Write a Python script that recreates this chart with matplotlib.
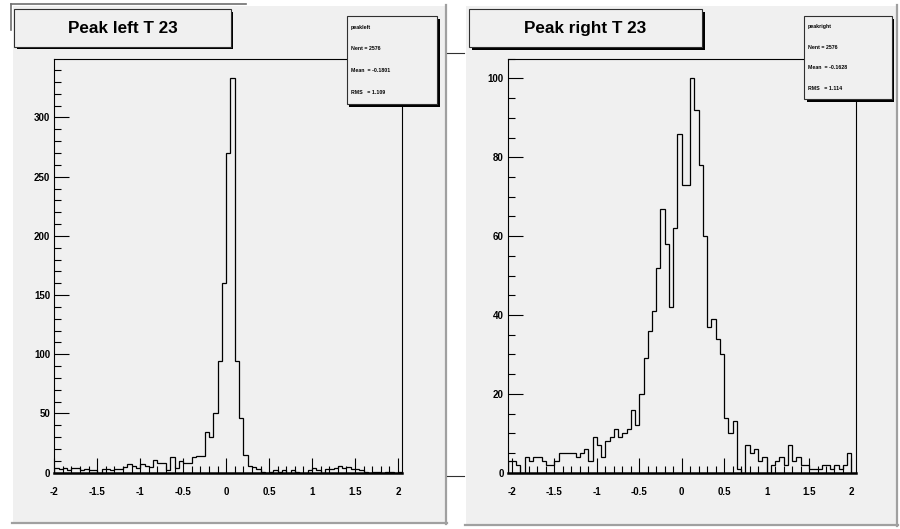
import numpy as np
import matplotlib
matplotlib.use('Agg')
import matplotlib.pyplot as plt
from matplotlib.patches import Rectangle
from matplotlib.ticker import MultipleLocator

plt.rcParams['font.family'] = ['Liberation Sans', 'DejaVu Sans']
plt.rcParams['font.weight'] = 'bold'

# histogram contents, 0.05 wide bins
left_range = (-2.0, 2.05)
left_counts = [4, 3, 4, 2, 4, 4, 2, 3, 2, 2, 0, 3, 3, 2, 3, 3, 5, 7, 6, 4,
               7, 6, 5, 11, 8, 8, 2, 13, 4, 10, 8, 8, 13, 14, 14, 34, 30, 50, 94, 160,
               270, 333, 94, 46, 15, 6, 5, 3, 1, 0, 1, 2, 1, 2, 0, 2, 1, 0, 0, 2,
               4, 2, 0, 3, 3, 4, 6, 4, 5, 3, 3, 2, 1, 0, 1, 1, 0, 1, 1, 0, 1]
right_range = (-2.05, 2.05)
right_counts = [3, 3, 2, 0, 4, 3, 4, 4, 3, 2, 2, 3, 5, 5, 5, 5, 4, 5, 6, 3,
                9, 7, 4, 8, 9, 11, 9, 10, 11, 16, 12, 20, 29, 36, 41, 52, 67, 58, 42, 62,
                86, 73, 73, 100, 92, 78, 60, 37, 39, 34, 30, 14, 10, 13, 1, 0, 7, 5, 6, 3,
                4, 0, 2, 3, 4, 2, 7, 3, 4, 2, 2, 1, 1, 1, 2, 2, 1, 2, 1, 2, 5, 0]

titles = ['Peak left T 23', 'Peak right T 23']
stat_names = ['peakleft', 'peakright']
stat_nent = [2576, 2576]
stat_mean = ['-0.1801', '-0.1628']
stat_rms = ['1.109', '1.114']

W, H = 900, 529
PAD_GREY = '#f0f0f0'


def fig_rect(x0, y0, x1, y1):
    # pixel box (top-left origin) -> figure fraction
    return [x0 / W, 1 - y1 / H, (x1 - x0) / W, (y1 - y0) / H]


def draw_pad(ax, x0, y0, x1, y1):
    ax.add_patch(Rectangle((x0, y0), x1 - x0, y1 - y0, facecolor=PAD_GREY, edgecolor='none'))
    ax.plot([x0, x0], [y0, y1], color='#ffffff', lw=1.5)
    ax.plot([x0, x1], [y0, y0], color='#ffffff', lw=1.5)
    ax.plot([x1 - 1, x1 - 1], [y0, y1], color='#a0a0a0', lw=1.6)
    ax.plot([x0, x1], [y1 - 1, y1 - 1], color='#a0a0a0', lw=1.6)


def draw_box(ax, x0, y0, x1, y1, shadow=2.5):
    ax.add_patch(Rectangle((x0 + shadow, y0 + shadow), x1 - x0, y1 - y0,
                           facecolor='black', edgecolor='none'))
    ax.add_patch(Rectangle((x0, y0), x1 - x0, y1 - y0, facecolor=PAD_GREY,
                           edgecolor='#303030', lw=0.8))


def hist_axes(fig, box, counts, rng, minor_y, major_y):
    ax = fig.add_axes(fig_rect(*box), zorder=2)
    edges = np.linspace(rng[0], rng[1], len(counts) + 1)
    ax.stairs(counts, edges, baseline=0, color='black', lw=0.9)
    ax.set_xlim(rng)
    ax.set_ylim(0, 1.05 * max(counts))
    ax.set_facecolor('none')
    ax.xaxis.set_major_locator(MultipleLocator(0.5))
    ax.xaxis.set_minor_locator(MultipleLocator(0.1))
    ax.yaxis.set_major_locator(MultipleLocator(major_y))
    ax.yaxis.set_minor_locator(MultipleLocator(minor_y))
    ax.xaxis.set_major_formatter(plt.FuncFormatter(lambda v, p: f'{v:g}'))
    ax.tick_params(which='both', direction='in', top=False, right=False, width=0.8,
                   labelsize=7, colors='black')
    ax.tick_params(which='major', length=11)
    ax.tick_params(which='minor', length=5)
    ax.tick_params(axis='x', pad=10)
    ax.tick_params(axis='y', pad=3)
    for s in ax.spines.values():
        s.set_linewidth(0.8)
    ax.spines['bottom'].set_linewidth(1.8)
    for lab in ax.get_xticklabels() + ax.get_yticklabels():
        lab.set_fontweight('bold')
    return ax


fig = plt.figure(figsize=(W / 100, H / 100), dpi=100)

bg = fig.add_axes([0, 0, 1, 1], zorder=0)
bg.set_xlim(0, W)
bg.set_ylim(H, 0)
bg.axis('off')
draw_pad(bg, 12, 5, 447, 524)
draw_pad(bg, 465, 5, 898, 526)
# stray frame lines from the canvas behind
bg.plot([11, 246], [4, 4], color='#707070', lw=1.2)
bg.plot([11, 11], [4, 30], color='#707070', lw=1.2)
bg.plot([447, 464], [53, 53], color='#303030', lw=0.8)
bg.plot([447, 464], [476, 476], color='#303030', lw=0.8)

hist_axes(fig, (54.3, 58.7, 402.3, 472.7), left_counts, left_range, 10, 50)
hist_axes(fig, (507.7, 58.7, 855.7, 472.7), right_counts, right_range, 5, 20)

fg = fig.add_axes([0, 0, 1, 1], zorder=5)
fg.set_xlim(0, W)
fg.set_ylim(H, 0)
fg.axis('off')
fg.patch.set_alpha(0)

title_boxes = [(14.3, 9.3, 230.5, 46.7), (469, 9.3, 702, 47.3)]
stat_boxes = [(346.7, 16, 437.3, 104), (804, 16, 891.7, 99)]
for i in range(2):
    x0, y0, x1, y1 = title_boxes[i]
    draw_box(fg, x0, y0, x1, y1)
    fg.text((x0 + x1) / 2, (y0 + y1) / 2 + 0.5, titles[i], ha='center', va='center',
            fontsize=12.3, fontweight='bold')
    x0, y0, x1, y1 = stat_boxes[i]
    draw_box(fg, x0, y0, x1, y1)
    lines = [stat_names[i], f'Nent = {stat_nent[i]}', f'Mean  = {stat_mean[i]}',
             f'RMS   = {stat_rms[i]}']
    rh = (y1 - y0) / 4
    for j, s in enumerate(lines):
        fg.text(x0 + 4, y0 + (j + 0.5) * rh, s, ha='left', va='center',
                fontsize=3.8, fontweight='bold')

fig.savefig('out.png', dpi=100)
